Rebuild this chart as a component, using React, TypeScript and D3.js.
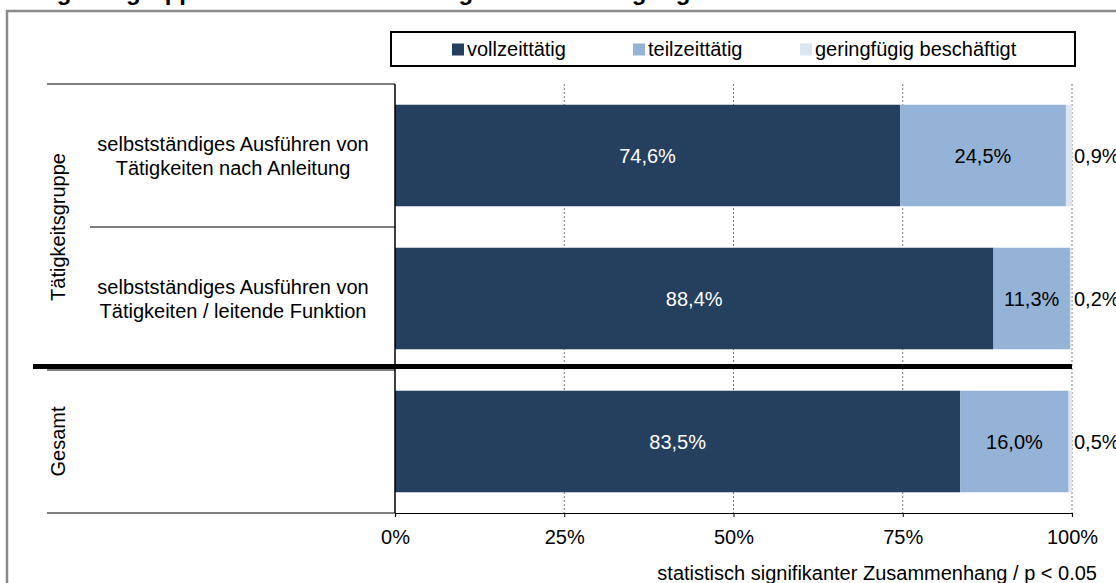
import React, { useEffect, useRef } from 'react';
import * as d3 from 'd3';

// Tätigkeitsgruppe x Beschäftigungsumfang, gestapelte Balken 100%

const categories = ['anleitung', 'leitend', 'gesamt'];
const categoryLines = [
  ['selbstständiges Ausführen von', 'Tätigkeiten nach Anleitung'],
  ['selbstständiges Ausführen von', 'Tätigkeiten / leitende Funktion'],
  [],
];
const groups = [
  { label: 'Tätigkeitsgruppe', from: 0, to: 1 },
  { label: 'Gesamt', from: 2, to: 2 },
];
const seriesNames = ['vollzeittätig', 'teilzeittätig', 'geringfügig beschäftigt'];
const vollzeit = [74.6, 88.4, 83.5];
const teilzeit = [24.5, 11.3, 16.0];
const geringfuegig = [0.9, 0.2, 0.5];
const tickValues = [0, 0.25, 0.5, 0.75, 1];
const titleText = 'Tätigkeitsgruppe und Arbeitszeitumfang der Beschäftigung';
const footnote = 'statistisch signifikanter Zusammenhang / p < 0.05';

const colors = ['#253f5f', '#95b3d7', '#dce6f2'];
const labelColors = ['#ffffff', '#000000', '#000000'];

const App = () => {
  const svgRef = useRef(null);

  useEffect(() => {
    const width = 1116;
    const height = 583;
    const font = 'Arial, "Liberation Sans", sans-serif';

    const svg = d3.select(svgRef.current);
    svg.selectAll('*').remove();

    const x = d3.scaleLinear().domain([0, 1]).range([395, 1072]);
    const y = d3
      .scaleBand()
      .domain(categories)
      .range([84, 513])
      .paddingInner(0.29)
      .paddingOuter(0.145);
    const half = (y.step() * y.paddingInner()) / 2;
    const fmt = (v) => d3.format('.1f')(v).replace('.', ',') + '%';

    // title, cut off by the top edge in the original
    svg.append('text')
      .attr('x', 14)
      .attr('y', 0)
      .attr('font-family', font)
      .attr('font-size', 24)
      .attr('font-weight', 'bold')
      .text(titleText);

    // outer frame
    svg.append('rect')
      .attr('x', 7)
      .attr('y', 11)
      .attr('width', width + 20)
      .attr('height', height + 20)
      .attr('fill', 'none')
      .attr('stroke', '#8a8a8a')
      .attr('stroke-width', 2.5);

    // legend
    svg.append('rect')
      .attr('x', 391)
      .attr('y', 32)
      .attr('width', 684)
      .attr('height', 34)
      .attr('fill', 'none')
      .attr('stroke', '#000')
      .attr('stroke-width', 2);
    const legendX = [452, 633, 800];
    seriesNames.forEach((name, i) => {
      svg.append('rect')
        .attr('x', legendX[i])
        .attr('y', 43.5)
        .attr('width', 12)
        .attr('height', 12)
        .attr('fill', colors[i]);
      svg.append('text')
        .attr('x', legendX[i] + 15)
        .attr('y', 56)
        .attr('font-family', font)
        .attr('font-size', 20)
        .text(name);
    });

    // grid
    svg.append('g')
      .selectAll('line')
      .data(tickValues.slice(1))
      .enter()
      .append('line')
      .attr('x1', (d) => x(d))
      .attr('x2', (d) => x(d))
      .attr('y1', 84)
      .attr('y2', 513)
      .attr('stroke', '#777')
      .attr('stroke-width', 1)
      .attr('stroke-dasharray', '2,2');

    // stacked bars
    const stackData = categories.map((c, i) => ({
      cat: c,
      values: [vollzeit[i], teilzeit[i], geringfuegig[i]],
    }));
    stackData.forEach((row) => {
      let acc = 0;
      row.values.forEach((v, j) => {
        const x0 = x(acc / 100);
        const x1 = x((acc + v) / 100);
        svg.append('rect')
          .attr('x', x0)
          .attr('y', y(row.cat))
          .attr('width', x1 - x0)
          .attr('height', y.bandwidth())
          .attr('fill', colors[j]);
        const cy = y(row.cat) + y.bandwidth() / 2 + 7;
        svg.append('text')
          .attr('x', j === 2 ? x(1) + 2 : (x0 + x1) / 2)
          .attr('y', cy)
          .attr('text-anchor', j === 2 ? 'start' : 'middle')
          .attr('font-family', font)
          .attr('font-size', 20)
          .attr('fill', labelColors[j])
          .text(fmt(v));
        acc += v;
      });
    });

    // category axis (left)
    svg.append('line')
      .attr('x1', x(0))
      .attr('x2', x(0))
      .attr('y1', 84)
      .attr('y2', 513)
      .attr('stroke', '#000')
      .attr('stroke-width', 1.5);

    const boundaries = [
      { yy: y(categories[0]) - half, x1: 47 },
      { yy: y(categories[1]) - half, x1: 90 },
      { yy: y(categories[2]) - half, x1: 47 },
      { yy: y(categories[2]) + y.bandwidth() + half, x1: 47 },
    ];
    boundaries.forEach((b) => {
      svg.append('line')
        .attr('x1', b.x1)
        .attr('x2', x(0))
        .attr('y1', b.yy)
        .attr('y2', b.yy)
        .attr('stroke', '#000')
        .attr('stroke-width', 1.2);
    });

    // thick separator before Gesamt
    svg.append('line')
      .attr('x1', 33)
      .attr('x2', x(1))
      .attr('y1', y(categories[2]) - half - 3.5)
      .attr('y2', y(categories[2]) - half - 3.5)
      .attr('stroke', '#000')
      .attr('stroke-width', 5);

    categories.forEach((c, i) => {
      const lines = categoryLines[i];
      const cy = y(c) + y.bandwidth() / 2;
      lines.forEach((ln, k) => {
        svg.append('text')
          .attr('x', 233)
          .attr('y', cy + (k - (lines.length - 1) / 2) * 24 + 7)
          .attr('text-anchor', 'middle')
          .attr('font-family', font)
          .attr('font-size', 20)
          .text(ln);
      });
    });

    groups.forEach((g) => {
      const top = y(categories[g.from]) - half;
      const bottom = y(categories[g.to]) + y.bandwidth() + half;
      const cy = (top + bottom) / 2;
      svg.append('text')
        .attr('transform', `translate(65, ${cy}) rotate(-90)`)
        .attr('text-anchor', 'middle')
        .attr('font-family', font)
        .attr('font-size', 20)
        .text(g.label);
    });

    // value axis (bottom)
    const xAxis = svg.append('g')
      .attr('transform', 'translate(0, 513)')
      .call(
        d3.axisBottom(x)
          .tickValues(tickValues)
          .tickSize(4)
          .tickPadding(13)
          .tickFormat(d3.format('.0%'))
      );
    xAxis.select('.domain').attr('stroke', '#000').attr('stroke-width', 1.2);
    xAxis.selectAll('.tick line').attr('stroke', '#000');
    xAxis.selectAll('.tick text')
      .attr('font-family', font)
      .attr('font-size', 20)
      .attr('fill', '#000');

    svg.append('text')
      .attr('x', 1097)
      .attr('y', 580)
      .attr('text-anchor', 'end')
      .attr('font-family', font)
      .attr('font-size', 20)
      .text(footnote);
  }, []);

  return (
    <svg
      ref={svgRef}
      width="1116"
      height="583"
      style={{ position: 'absolute', left: 0, top: 0, background: '#fff' }}
    />
  );
};

export default App;
